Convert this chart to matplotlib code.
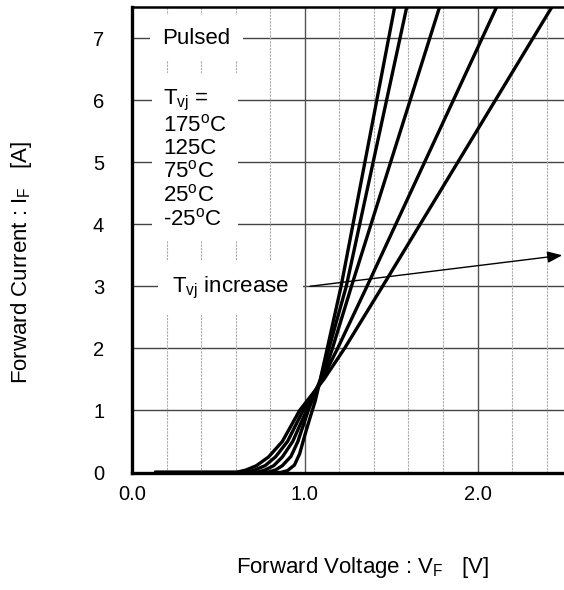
import matplotlib
matplotlib.use("Agg")
import matplotlib.pyplot as plt

plt.rcParams["font.family"] = ["Liberation Sans", "DejaVu Sans"]
plt.rcParams["mathtext.fontset"] = "custom"
plt.rcParams["mathtext.rm"] = "Liberation Sans"
plt.rcParams["mathtext.it"] = "Liberation Sans"

# forward curves (V, A)
v_m25 = [0.13, 0.86, 0.90, 0.94, 0.97, 1.00, 1.03, 1.06, 1.09, 1.13, 1.21, 1.52]
i_m25 = [0.0, 0.0, 0.03, 0.12, 0.30, 0.60, 0.88, 1.15, 1.50, 2.00, 3.00, 7.50]

v_25 = [0.13, 0.78, 0.83, 0.87, 0.92, 0.96, 1.02, 1.09, 1.14, 1.24, 1.59]
i_25 = [0.0, 0.0, 0.04, 0.11, 0.26, 0.50, 1.00, 1.50, 2.00, 3.00, 7.50]

v_75 = [0.13, 0.72, 0.77, 0.82, 0.87, 0.93, 1.01, 1.10, 1.16, 1.27, 1.78]
i_75 = [0.0, 0.0, 0.04, 0.11, 0.25, 0.50, 1.00, 1.50, 2.00, 3.00, 7.50]

v_125 = [0.13, 0.66, 0.71, 0.77, 0.83, 0.90, 0.99, 1.10, 1.19, 1.36, 2.11]
i_125 = [0.0, 0.0, 0.04, 0.11, 0.25, 0.50, 1.00, 1.50, 2.00, 3.00, 7.50]

v_175 = [0.13, 0.60, 0.66, 0.72, 0.79, 0.87, 0.97, 1.11, 1.23, 1.45, 2.43]
i_175 = [0.0, 0.0, 0.04, 0.11, 0.25, 0.50, 1.00, 1.50, 2.00, 3.00, 7.50]

curves = [(v_m25, i_m25), (v_25, i_25), (v_75, i_75), (v_125, i_125), (v_175, i_175)]

x_ticks = [0.0, 1.0, 2.0]
x_ticklabels = ["0.0", "1.0", "2.0"]
y_ticks = [0, 1, 2, 3, 4, 5, 6, 7]
temp_labels = ["T$_{\\rm vj}$ =", "175$^{\\rm o}$C", "125C", "75$^{\\rm o}$C",
               "25$^{\\rm o}$C", "-25$^{\\rm o}$C"]

fig = plt.figure(figsize=(5.64, 5.90), dpi=100)
ax = fig.add_axes([132 / 564, 117.5 / 590, 1 - 132 / 564, 465.5 / 590])

ax.set_xlim(0, 2.5)
ax.set_ylim(0, 7.5)

# grid
for y in y_ticks[1:]:
    ax.axhline(y, color="#444444", lw=1.0, zorder=1)
for k in range(1, 13):
    x = k * 0.2
    if abs(x - 1.0) < 1e-6 or abs(x - 2.0) < 1e-6:
        continue
    ax.axvline(x, color="#aaaaaa", lw=0.8, ls=(0, (2, 1)), zorder=1)
for x in [1.0, 2.0]:
    ax.axvline(x, color="#555555", lw=1.0, zorder=1)

for v, i in curves:
    ax.plot(v, i, color="black", lw=2.4, solid_joinstyle="round",
            solid_capstyle="butt", zorder=3)

ax.set_xticks(x_ticks)
ax.set_xticklabels(x_ticklabels)
ax.set_yticks(y_ticks)
ax.tick_params(length=0, labelsize=14.5)
ax.tick_params(axis="y", pad=20)
ax.tick_params(axis="x", pad=9)

for side in ["left", "bottom"]:
    ax.spines[side].set_linewidth(2.4)
ax.spines["top"].set_linewidth(1.8)
ax.spines["right"].set_visible(False)

ax.text(0.175, 7.0, "Pulsed", fontsize=16, va="center", ha="left",
        bbox=dict(facecolor="white", edgecolor="none", pad=9), zorder=4)
ax.text(0.18, 6.2, "\n".join(temp_labels), fontsize=16, va="top", ha="left",
        linespacing=1.1, bbox=dict(facecolor="white", edgecolor="none", pad=8),
        zorder=4)

ax.annotate("", xy=(2.49, 3.5), xytext=(1.03, 3.0),
            arrowprops=dict(arrowstyle="-|>,head_length=0.9,head_width=0.35",
                            color="black", lw=1.0, shrinkA=0, shrinkB=0),
            zorder=5)
ax.text(0.23, 2.97, "T$_{\\rm vj}$ increase", fontsize=16, va="center", ha="left",
        bbox=dict(facecolor="white", edgecolor="none", pad=10), zorder=4)

fig.text(363 / 564, 1 - 568 / 590, "Forward Voltage : V$_{\\rm F}$   [V]",
         fontsize=16, ha="center", va="center")
fig.text(22 / 564, 1 - 262 / 590, "Forward Current : I$_{\\rm F}$   [A]",
         fontsize=16, ha="center", va="center", rotation=90)

fig.savefig("out.png", dpi=100)
